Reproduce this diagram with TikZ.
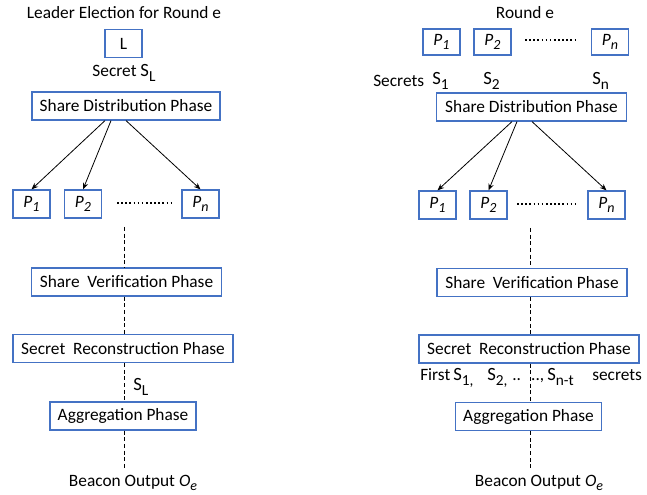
\documentclass[tikz,border=0pt]{standalone}
\usepackage{fontspec}
\setmainfont{Carlito}
\usetikzlibrary{arrows.meta}
\definecolor{boxblue}{RGB}{68,114,196}
% lowered, slightly reduced subscript
\newcommand{\lowsub}[1]{\raisebox{-3.2pt}{\fontsize{10.5}{12}\selectfont #1}}
% secret symbol S with its index, set a little larger than the text
\newcommand{\secsym}[1]{{\fontsize{14}{16}\selectfont S\raisebox{-3.5pt}{\fontsize{11.5}{13}\selectfont #1}}}
\tikzset{
  phase/.style={draw=boxblue, line width=0.9pt, minimum height=21pt, inner sep=0pt, font=\fontsize{13}{15}\selectfont},
  party/.style={draw=boxblue, line width=0.9pt, minimum width=27.75pt, minimum height=21pt, inner sep=0pt, font=\fontsize{13}{15}\selectfont\itshape},
  lbl/.style={inner sep=0pt, font=\fontsize{13}{15}\selectfont},
  send/.style={-{Stealth[length=5pt,width=4pt]}, line width=0.6pt},
  flow/.style={line width=0.7pt, dash pattern=on 3pt off 2pt},
  dotrow/.style={line width=1.4pt, dash pattern=on 1.2pt off 1.9pt}
}
\begin{document}
\begin{tikzpicture}[x=0.75pt, y=-0.75pt]
\useasboundingbox (0,0) rectangle (647,495);

% ---------- leader-based protocol ----------
\node[lbl] (titleL) at (124,13) {Leader Election for Round e};
\node[party, font=\fontsize{13}{15}\selectfont] (leader) at (123.5,43.5) {L};
\node[lbl] (secretL) at (124,73) {Secret \secsym{L}};
\node[phase, minimum width=141pt] (sdL) at (126,106) {Share Distribution Phase};

\node[party] (p1L) at (31.5,204) {P\lowsub{1}};
\node[party] (p2L) at (83,204) {P\lowsub{2}};
\node[party] (pnL) at (200.5,204) {P\lowsub{n}};
\coordinate (dotsLa) at (117,203);
\coordinate (dotsLb) at (172,203);
\draw[dotrow] (dotsLa) -- (dotsLb);

\draw[send] (sdL.south -| 105,0) -- (p1L.north);
\draw[send] (sdL.south -| 111,0) -- (p2L.north);
\draw[send] (sdL.south -| 126,0) -- (pnL.north);

\node[phase, minimum width=142pt] (svL) at (126.5,282) {Share\ \ Verification Phase};
\node[phase, minimum width=165pt] (srL) at (123,348.5) {Secret\ \ Reconstruction Phase};
\node[phase, minimum width=109.5pt] (agL) at (123,416) {Aggregation Phase};
\node[lbl] (beaconL) at (133,483) {Beacon Output \textit{O\lowsub{e}}};
\node[lbl, anchor=west] (slL) at (133,387) {\secsym{L}};

\coordinate (vL) at (124,227);
\coordinate (endL) at (124,468);
\draw[flow] (vL) -- (vL |- svL.north);
\draw[flow] (vL |- svL.south) -- (vL |- srL.north);
\draw[flow] (vL |- srL.south) -- (vL |- agL.north);
\draw[flow] (vL |- agL.south) -- (endL);

% ---------- all-party protocol ----------
\node[lbl] (titleR) at (525,13) {Round e};
\node[party, minimum height=19.5pt] (p1T) at (441.5,42) {P\lowsub{1}};
\node[party, minimum height=19.5pt] (p2T) at (492.5,42) {P\lowsub{2}};
\node[party, minimum height=19.5pt] (pnT) at (610,42) {P\lowsub{n}};
\coordinate (dotsTa) at (525,40);
\coordinate (dotsTb) at (578,40);
\draw[dotrow] (dotsTa) -- (dotsTb);

\node[lbl, anchor=west] (secrets) at (373,81) {Secrets};
\node[lbl, anchor=west] (s1) at (432,81) {\secsym{1}};
\node[lbl, anchor=west] (s2) at (483,81) {\secsym{2}};
\node[lbl, anchor=west] (sn) at (592,81) {\secsym{n}};

\node[phase, minimum width=142pt] (sdR) at (531.5,107) {Share Distribution Phase};

\node[party] (p1R) at (437.5,205) {P\lowsub{1}};
\node[party] (p2R) at (488.5,205) {P\lowsub{2}};
\node[party] (pnR) at (606.5,205) {P\lowsub{n}};
\coordinate (dotsRa) at (517,204);
\coordinate (dotsRb) at (577,204);
\draw[dotrow] (dotsRa) -- (dotsRb);

\draw[send] (sdR.south -| 512,0) -- (p1R.north);
\draw[send] (sdR.south -| 517,0) -- (p2R.north);
\draw[send] (sdR.south -| 532,0) -- (pnR.north);

\node[phase, minimum width=142.5pt] (svR) at (532,282.5) {Share\ \ Verification Phase};
\node[phase, minimum width=165pt] (srR) at (529,349) {Secret\ \ Reconstruction Phase};
\node[phase, minimum width=110pt] (agR) at (528.5,416.5) {Aggregation Phase};
\node[lbl] (beaconR) at (539,483) {Beacon Output \textit{O\lowsub{e}}};
\node[lbl, anchor=west] (first) at (420,378)
  {\makebox[24.75pt][l]{First}\makebox[25.5pt][l]{\secsym{1,}}\makebox[18.75pt][l]{\secsym{2,}}\makebox[14.25pt][l]{..}\makebox[12pt][l]{..,}\makebox[33.75pt][l]{\secsym{n-t}}secrets};

\coordinate (vR) at (530,228);
\coordinate (endR) at (530,468);
\draw[flow] (vR) -- (vR |- svR.north);
\draw[flow] (vR |- svR.south) -- (vR |- srR.north);
\draw[flow] (vR |- srR.south) -- (vR |- agR.north);
\draw[flow] (vR |- agR.south) -- (endR);
\end{tikzpicture}
\end{document}
